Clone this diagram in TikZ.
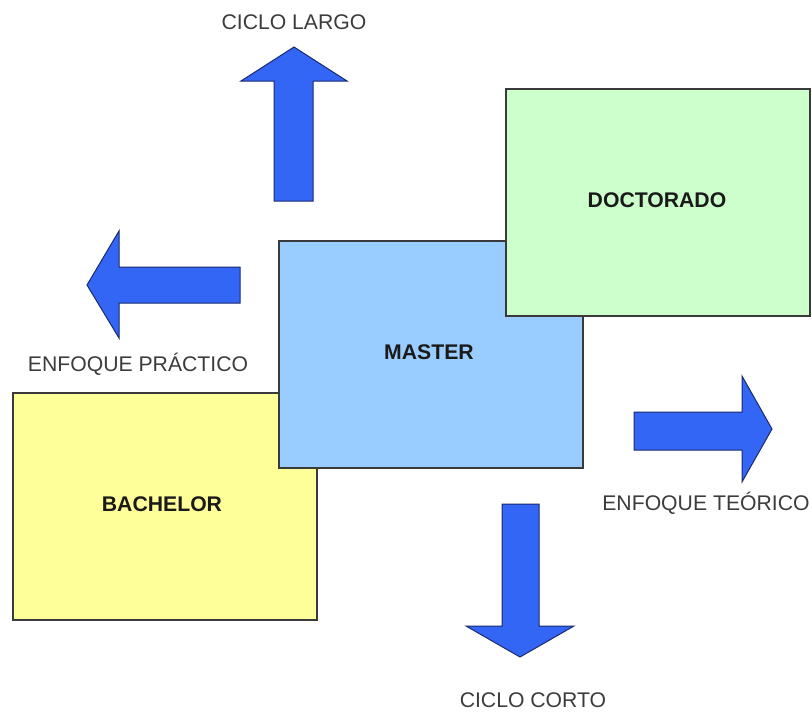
\documentclass[tikz,border=0pt]{standalone}
\usepackage{fontspec}
\setmainfont{Liberation Sans}
\definecolor{boxline}{HTML}{3A3A3A}
\definecolor{stagetext}{HTML}{1A1A1A}
\definecolor{captext}{HTML}{3C3C3C}
\definecolor{arrowblue}{HTML}{3366F5}
\definecolor{arrowline}{HTML}{1A2A6E}
\definecolor{bachfill}{HTML}{FFFF99}
\definecolor{mastfill}{HTML}{99CCFF}
\definecolor{docfill}{HTML}{CCFFCC}
\begin{document}
\begin{tikzpicture}[x=1pt,y=-1pt,
  stage/.style={draw=boxline, line width=1.8pt, anchor=north west,
    minimum width=304pt, minimum height=227pt, inner sep=0pt},
  stagelabel/.style={font=\fontsize{21.2}{25}\selectfont\bfseries, text=stagetext, inner sep=0pt},
  caption/.style={font=\fontsize{21.2}{25}\selectfont, text=captext, inner sep=0pt},
  blockarrow/.style={fill=arrowblue, draw=arrowline, line width=1pt, line join=miter}]
  \useasboundingbox[fill=white] (0,0) rectangle (812,715);

  % stacked degree boxes, lowest first
  \node[stage, fill=bachfill] (bachelor) at (12,392) {};
  \node[stagelabel] (bachelortext) at (162,504) {BACHELOR};
  \node[stage, fill=mastfill] (master) at (278,240) {};
  \node[stagelabel] (mastertext) at (429,352) {MASTER};
  \node[stage, fill=docfill] (doctorado) at (505,88) {};
  \node[stagelabel] (doctoradotext) at (657,200) {DOCTORADO};

  % block arrows
  \draw[blockarrow] (274,201) -- (274,81) -- (241,81) -- (294,47) -- (347,81)
    -- (313,81) -- (313,201) -- cycle;
  \draw[blockarrow] (240,267) -- (119,267) -- (119,231) -- (87,285) -- (119,338)
    -- (119,303) -- (240,303) -- cycle;
  \draw[blockarrow] (634,412) -- (742,412) -- (742,376) -- (772,429) -- (742,482)
    -- (742,450) -- (634,450) -- cycle;
  \draw[blockarrow] (502,504) -- (502,626) -- (466,626) -- (520,657) -- (574,626)
    -- (539,626) -- (539,504) -- cycle;

  % arrow captions
  \node[caption] (largo) at (294,22) {CICLO LARGO};
  \node[caption] (practico) at (138,364) {ENFOQUE PRÁCTICO};
  \node[caption] (teorico) at (706,503) {ENFOQUE TEÓRICO};
  \node[caption] (corto) at (533,700) {CICLO CORTO};
\end{tikzpicture}
\end{document}
